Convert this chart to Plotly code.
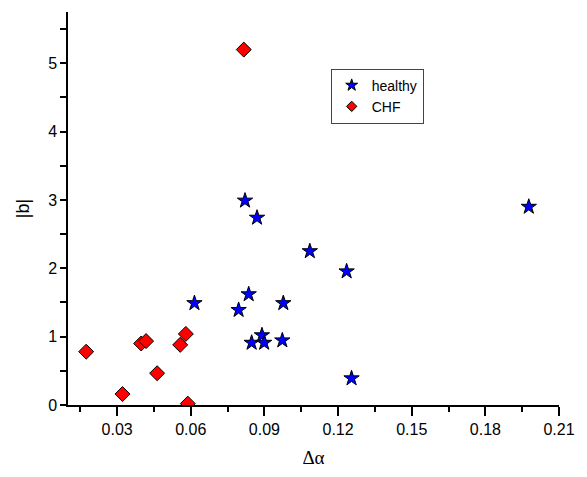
import plotly.graph_objects as go

# Healthy subjects (blue stars)
healthy_da = [0.0615, 0.0795, 0.0836, 0.0848, 0.0890, 0.0899, 0.0973, 0.0977,
              0.1085, 0.0821, 0.0870, 0.1235, 0.1255, 0.1977]
healthy_b = [1.49, 1.39, 1.62, 0.91, 1.02, 0.91, 0.945, 1.49,
             2.25, 2.99, 2.74, 1.955, 0.39, 2.90]

# CHF subjects (red diamonds)
chf_da = [0.0174, 0.0322, 0.0398, 0.0418, 0.0463, 0.0557, 0.0580, 0.0588, 0.0816]
chf_b = [0.78, 0.16, 0.90, 0.935, 0.465, 0.88, 1.04, 0.02, 5.20]

series_names = ["healthy", "CHF"]

x_range = [0.01, 0.21]
y_range = [0, 5.75]

star_style = dict(symbol="star", color="#0000FF", line=dict(color="black", width=1))
diamond_style = dict(symbol="diamond", color="#FF0000", line=dict(color="black", width=1))

fig = go.Figure()
fig.add_trace(go.Scatter(
    x=healthy_da, y=healthy_b, mode="markers", name=series_names[0],
    showlegend=False, marker=dict(size=11.5, **star_style),
))
fig.add_trace(go.Scatter(
    x=chf_da, y=chf_b, mode="markers", name=series_names[1],
    showlegend=False, marker=dict(size=11.5, **diamond_style),
))
# legend entries with the smaller legend symbols
fig.add_trace(go.Scatter(
    x=[None], y=[None], mode="markers", name=series_names[0],
    marker=dict(size=9, **star_style),
))
fig.add_trace(go.Scatter(
    x=[None], y=[None], mode="markers", name=series_names[1],
    marker=dict(size=8, **diamond_style),
))

fig.update_layout(
    width=587, height=477,
    margin=dict(l=68, r=22, t=12, b=67),
    paper_bgcolor="white", plot_bgcolor="white",
    font=dict(family="Liberation Sans, Arial", size=16, color="black"),
    showlegend=True,
    legend=dict(
        x=0.535, y=0.856, xanchor="left", yanchor="top",
        bgcolor="white", bordercolor="#444444", borderwidth=1,
        font=dict(size=14), itemwidth=30, tracegroupgap=0,
    ),
    xaxis=dict(
        range=x_range, tick0=0.03, dtick=0.03, tickformat=".2f",
        showgrid=False, zeroline=False, showline=True, linecolor="black",
        linewidth=1.5, ticks="outside", ticklen=9, tickwidth=1.5, tickcolor="black",
        minor=dict(dtick=0.015, tick0=0.015, ticks="outside", ticklen=5,
                   tickwidth=1.5, tickcolor="black", showgrid=False),
        title=dict(text="Δα", font=dict(family="Liberation Serif, Times New Roman", size=19),
                   standoff=14),
    ),
    yaxis=dict(
        range=y_range, tick0=0, dtick=1,
        showgrid=False, zeroline=False, showline=True, linecolor="black",
        linewidth=1.5, ticks="outside", ticklen=6, tickwidth=1.5, tickcolor="black",
        minor=dict(dtick=0.5, ticks="outside", ticklen=6, tickwidth=1.5,
                   tickcolor="black", showgrid=False),
        title=dict(text="|b|", font=dict(size=18), standoff=14),
    ),
)

fig.write_html("out.html")
